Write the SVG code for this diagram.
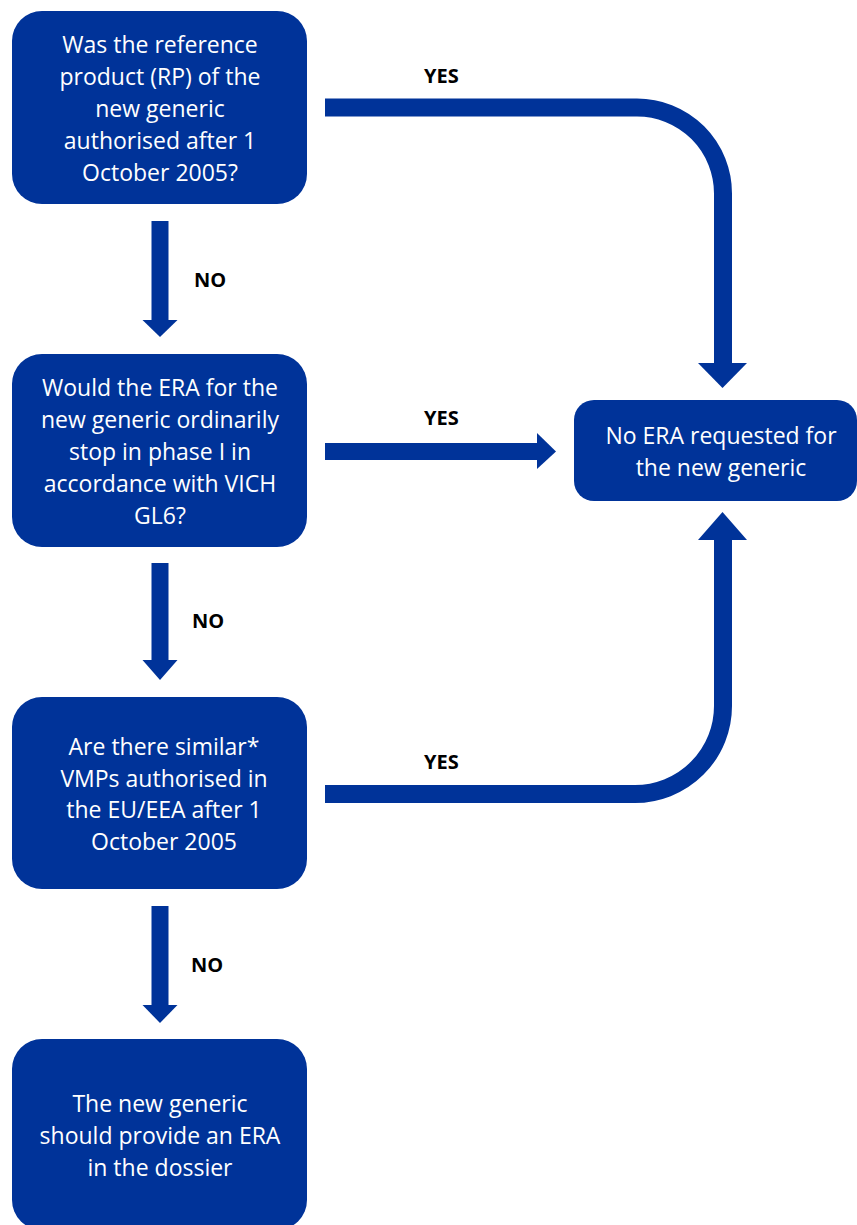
<svg xmlns="http://www.w3.org/2000/svg" width="857" height="1225" viewBox="0 0 857 1225">
<defs>
<style>
.box{fill:#003399;}
.t{font-family:"Open Sans","Noto Sans","Liberation Sans",sans-serif;font-size:23px;fill:#ffffff;text-anchor:middle;}
.lbl{font-family:"Open Sans","Noto Sans","Liberation Sans",sans-serif;font-size:20px;font-weight:bold;fill:#000000;}
.band{fill:none;stroke:#003399;stroke-width:18;}
.arr{fill:#003399;}
</style>
</defs>
<rect width="857" height="1225" fill="#ffffff"/>
<g id="connectors">
<path class="band" d="M325 107.5 H637 A86 86 0 0 1 723 193.5 V364"/>
<polygon class="arr" points="698,363 747,363 722.5,388"/>
<path class="band" d="M325 794 H635 A88 88 0 0 0 723 706 V539"/>
<polygon class="arr" points="698,540 747,540 722.5,512"/>
<rect class="arr" x="325" y="443" width="213" height="17"/>
<polygon class="arr" points="537,433 537,469 556,451.5"/>
<rect class="arr" x="151.5" y="221" width="17" height="100"/>
<polygon class="arr" points="142.5,320 177.5,320 160,337"/>
<rect class="arr" x="151.5" y="563" width="17" height="98"/>
<polygon class="arr" points="142.5,660 177.5,660 160,680"/>
<rect class="arr" x="151.5" y="906" width="17" height="100"/>
<polygon class="arr" points="142.5,1005 177.5,1005 160,1023"/>
<text class="lbl" x="424" y="83">YES</text>
<text class="lbl" x="424" y="425">YES</text>
<text class="lbl" x="424" y="769">YES</text>
<text class="lbl" x="194" y="287">NO</text>
<text class="lbl" x="192" y="628">NO</text>
<text class="lbl" x="191" y="972">NO</text>
</g>
<g id="q1">
<rect class="box" x="12" y="11" width="295" height="193" rx="30" ry="30"/>
<text class="t" x="160" y="53">Was the reference</text>
<text class="t" x="160" y="85">product (RP) of the</text>
<text class="t" x="160" y="117">new generic</text>
<text class="t" x="160" y="149">authorised after 1</text>
<text class="t" x="160" y="181">October 2005?</text>
</g>
<g id="q2">
<rect class="box" x="12" y="354" width="295" height="193" rx="30" ry="30"/>
<text class="t" x="160" y="396">Would the ERA for the</text>
<text class="t" x="160" y="428">new generic ordinarily</text>
<text class="t" x="160" y="460">stop in phase I in</text>
<text class="t" x="160" y="492">accordance with VICH</text>
<text class="t" x="160" y="524">GL6?</text>
</g>
<g id="q3">
<rect class="box" x="12" y="697" width="295" height="192" rx="30" ry="30"/>
<text class="t" x="164" y="755">Are there similar*</text>
<text class="t" x="164" y="787">VMPs authorised in</text>
<text class="t" x="164" y="818">the EU/EEA after 1</text>
<text class="t" x="164" y="850">October 2005</text>
</g>
<g id="noera">
<rect class="box" x="574" y="400" width="283" height="101" rx="20" ry="20"/>
<text class="t" x="721" y="444">No ERA requested for</text>
<text class="t" x="721" y="476">the new generic</text>
</g>
<g id="provide">
<rect class="box" x="12" y="1039" width="295" height="191" rx="30" ry="30"/>
<text class="t" x="160" y="1112">The new generic</text>
<text class="t" x="160" y="1144">should provide an ERA</text>
<text class="t" x="160" y="1176">in the dossier</text>
</g>
</svg>
